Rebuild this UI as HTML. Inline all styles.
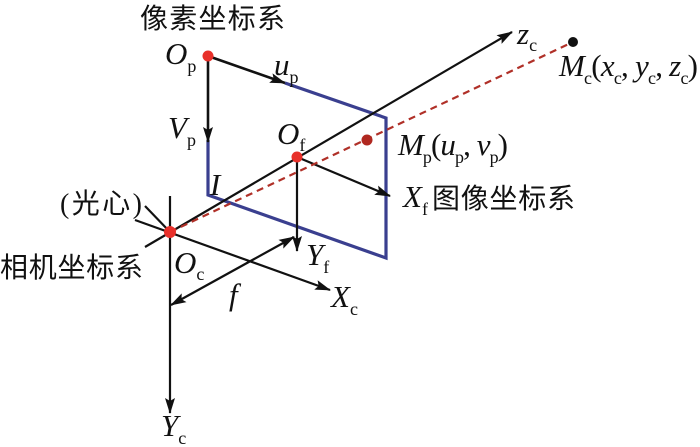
<!DOCTYPE html>
<html><head><meta charset="utf-8"><style>
html,body{margin:0;padding:0;background:#fff;}
svg{display:block;}
</style></head><body>
<svg width="700" height="447" viewBox="0 0 700 447" xmlns="http://www.w3.org/2000/svg" font-family="'Liberation Serif', 'Noto Serif CJK SC', serif" fill="#111">
<defs>
<marker id="a" markerWidth="16" markerHeight="10" refX="15" refY="5" orient="auto" markerUnits="userSpaceOnUse">
<path d="M0,0 L16,5 L0,10 L3,5 Z" fill="#111"/></marker>
<marker id="b" markerWidth="16" markerHeight="10" refX="1" refY="5" orient="auto" markerUnits="userSpaceOnUse">
<path d="M16,0 L0,5 L16,10 L13,5 Z" fill="#111"/></marker>
</defs>
<g stroke="#111" stroke-width="2.2" fill="none">
<polyline points="285,83 386,118 386,258 208,195 208,140" stroke="#3a3f8f" stroke-width="3.2"/>
<line x1="208" y1="56" x2="285" y2="83" stroke-width="2.6" marker-end="url(#a)"/>
<line x1="208" y1="56" x2="208" y2="142" stroke-width="2.6" marker-end="url(#a)"/>
<line x1="145" y1="247" x2="512" y2="32" marker-end="url(#a)"/>
<line x1="135" y1="220" x2="330" y2="290" marker-end="url(#a)"/>
<line x1="170" y1="196" x2="170" y2="413" marker-end="url(#a)"/>
<line x1="145" y1="206" x2="170" y2="232"/>
<line x1="297" y1="157" x2="390" y2="196" marker-end="url(#a)"/>
<line x1="297" y1="157" x2="297" y2="251" marker-end="url(#a)"/>
<line x1="171" y1="305" x2="294" y2="237" marker-start="url(#b)" marker-end="url(#a)"/>
<line x1="170" y1="232" x2="573" y2="42" stroke="#b03028" stroke-width="2.2" stroke-dasharray="7,5"/>
</g>
<circle cx="208" cy="56" r="5.5" fill="#e8302a"/>
<circle cx="297" cy="157" r="5.5" fill="#e8302a"/>
<circle cx="170" cy="232" r="6" fill="#e8302a"/>
<circle cx="367" cy="140" r="5.5" fill="#b02820"/>
<circle cx="573" cy="42" r="5" fill="#111"/>
<g font-family="'Liberation Sans', 'Noto Sans CJK SC', sans-serif" font-size="28">
<text x="140" y="28" textLength="145">像素坐标系</text>
<text x="0" y="277" textLength="143">相机坐标系</text>
<text x="432" y="208" textLength="143">图像坐标系</text>
</g>
<text x="60" y="213" font-size="28" font-family="'Liberation Serif','Noto Sans CJK SC',serif" textLength="82">(光心)</text>
<g font-size="31" font-style="italic">
<text x="165" y="64">O<tspan font-style="normal" font-size="18" dy="8">p</tspan></text>
<text x="274" y="75">u<tspan font-style="normal" font-size="18" dy="8">p</tspan></text>
<text x="168" y="138">V<tspan font-style="normal" font-size="18" dy="8">p</tspan></text>
<text x="277" y="144">O<tspan font-style="normal" font-size="18" dy="7">f</tspan></text>
<text x="210" y="195">I</text>
<text x="174" y="273">O<tspan font-style="normal" font-size="18" dy="7">c</tspan></text>
<text x="306" y="265">Y<tspan font-style="normal" font-size="18" dy="8">f</tspan></text>
<text x="229" y="305">f</text>
<text x="331" y="307">X<tspan font-style="normal" font-size="18" dy="8">c</tspan></text>
<text x="161" y="436">Y<tspan font-style="normal" font-size="18" dy="8">c</tspan></text>
<text x="517" y="44">z<tspan font-style="normal" font-size="18" dy="7">c</tspan></text>
<text x="403" y="207">X<tspan font-style="normal" font-size="18" dy="8">f</tspan></text>
<text x="398" y="155" textLength="110">M<tspan font-style="normal" font-size="18" dy="8">p</tspan><tspan font-style="normal" dy="-8">(</tspan>u<tspan font-style="normal" font-size="18" dy="8">p</tspan><tspan font-style="normal" dy="-8">, </tspan>v<tspan font-style="normal" font-size="18" dy="8">p</tspan><tspan font-style="normal" dy="-8">)</tspan></text>
<text x="559" y="76" textLength="139">M<tspan font-style="normal" font-size="18" dy="8">c</tspan><tspan font-style="normal" dy="-8">(</tspan>x<tspan font-style="normal" font-size="18" dy="8">c</tspan><tspan font-style="normal" dy="-8">, </tspan>y<tspan font-style="normal" font-size="18" dy="8">c</tspan><tspan font-style="normal" dy="-8">, </tspan>z<tspan font-style="normal" font-size="18" dy="8">c</tspan><tspan font-style="normal" dy="-8">)</tspan></text>
</g>
</svg>
</body></html>
